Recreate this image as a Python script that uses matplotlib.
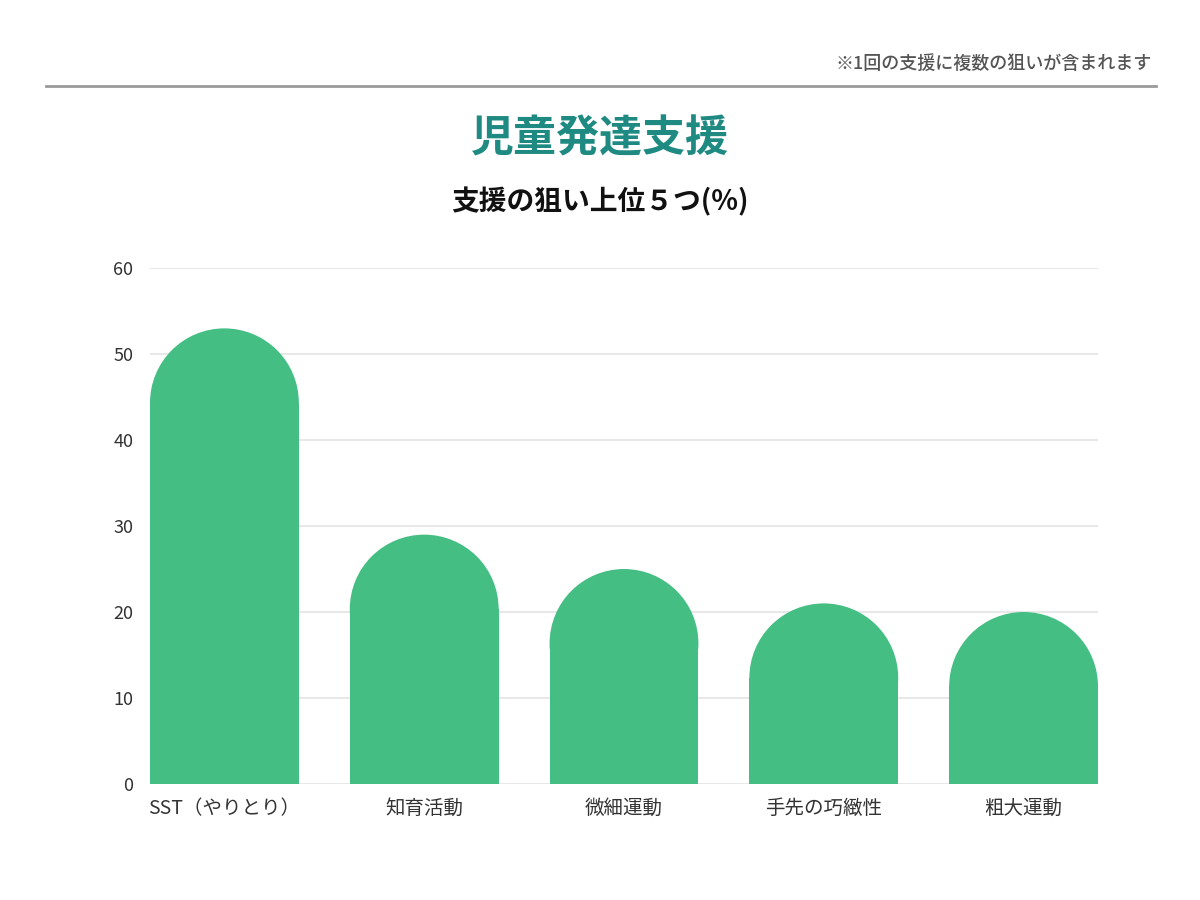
import matplotlib
matplotlib.use('Agg')
import matplotlib.pyplot as plt
from matplotlib.path import Path
from matplotlib.patches import PathPatch, Ellipse

plt.rcParams['font.family'] = ['Noto Sans CJK JP', 'DejaVu Sans']

# data
categories = ['SST（やりとり）', '知育活動', '微細運動', '手先の巧緻性', '粗大運動']
values = [53, 29, 25, 21, 20]
y_ticks = [0, 10, 20, 30, 40, 50, 60]

bar_color = '#45be84'
bar_width = 0.745

fig = plt.figure(figsize=(12, 9), dpi=100)
ax = fig.add_axes([0.125, 0.129, 0.79, 0.573])
xlim = (-bar_width / 2, len(categories) - 1 + bar_width / 2)
ax.set_xlim(*xlim)
ax.set_ylim(0, 60)

# size of one data unit in pixels, so the round tops come out circular
ax_w = fig.get_figwidth() * fig.dpi * 0.79
ax_h = fig.get_figheight() * fig.dpi * 0.573
px_x = ax_w / (xlim[1] - xlim[0])
px_y = ax_h / 60
cap_h = (bar_width * px_x / 2) / px_y

for i, v in enumerate(values):
    left = i - bar_width / 2
    right = i + bar_width / 2
    body_top = v - cap_h
    verts = [(left, 0), (right, 0), (right, body_top), (left, body_top), (left, 0)]
    codes = [Path.MOVETO, Path.LINETO, Path.LINETO, Path.LINETO, Path.CLOSEPOLY]
    ax.add_patch(PathPatch(Path(verts, codes), facecolor=bar_color, edgecolor='none', zorder=3))
    # round top
    e = Ellipse((i, body_top), bar_width, 2 * cap_h, facecolor=bar_color, edgecolor='none', zorder=3)
    ax.add_patch(e)

ax.set_yticks(y_ticks)
ax.yaxis.grid(True, color='#e8e8e8', linewidth=1.5)
ax.set_axisbelow(True)
ax.set_xticks(range(len(categories)))
ax.set_xticklabels(categories, fontsize=14, color='#333333')
ax.tick_params(axis='y', labelsize=13, labelcolor='#333333', length=0, pad=12)
ax.tick_params(axis='x', length=0, pad=10)
for s in ax.spines.values():
    s.set_visible(False)

fig.text(0.5, 0.846, '児童発達支援', ha='center', va='center', fontsize=31,
         fontweight='bold', color='#1f8a82')
fig.text(0.5, 0.776, '支援の狙い上位５つ(%)', ha='center', va='center', fontsize=20,
         fontweight='bold', color='#111111')
fig.text(0.96, 0.929, '※1回の支援に複数の狙いが含まれます', ha='right', va='center',
         fontsize=13, fontweight='medium', color='#555555')
fig.add_artist(plt.Line2D([0.038, 0.963], [0.905, 0.905], color='#9a9a9a', linewidth=2))

fig.savefig('out.png', dpi=100, facecolor='white')
